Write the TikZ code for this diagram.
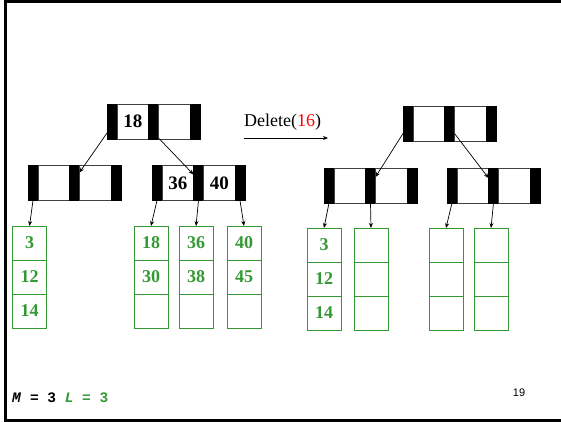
\documentclass[tikz,border=0pt]{standalone}
\usepackage{fontspec}
\setmainfont{Liberation Serif}
\setmonofont{Liberation Mono}
\newfontfamily\slidefont{Liberation Sans}
\usetikzlibrary{positioning,arrows.meta}
\definecolor{leafgreen}{RGB}{51,153,51}

\tikzset{
  bar/.style={fill=black, draw=black, minimum width=10pt, minimum height=35pt,
    inner sep=0pt, outer sep=0pt},
  key/.style={draw=black!75, line width=0.8pt, fill=white, minimum width=31.5pt,
    minimum height=35pt, inner sep=0pt, outer sep=0pt,
    font=\fontsize{19}{19}\selectfont\bfseries},
  leafcell/.style={draw=leafgreen, line width=0.8pt, minimum width=34pt,
    minimum height=34pt, inner sep=0pt, outer sep=0pt, text=leafgreen,
    font=\fontsize{18}{18}\selectfont\bfseries},
  ptr/.style={-{Stealth[length=5pt,width=4pt]}, line width=0.7pt},
}

% internal node: name, position of first bar, two keys
\newcommand{\bnode}[4]{
  \node[bar] (#1-0) at (#2) {};
  \node[key, right=0pt of #1-0] (#1-a) {#3};
  \node[bar, right=0pt of #1-a] (#1-1) {};
  \node[key, right=0pt of #1-1] (#1-b) {#4};
  \node[bar, right=0pt of #1-b] (#1-2) {};
}
% leaf: name, position of top cell, three entries
\newcommand{\bleaf}[5]{
  \node[leafcell] (#1-1) at (#2) {#3};
  \node[leafcell, below=0pt of #1-1] (#1-2) {#4};
  \node[leafcell, below=0pt of #1-2] (#1-3) {#5};
}

\begin{document}
\begin{tikzpicture}[x=1pt, y=-1pt]
  \useasboundingbox (0,0) rectangle (561,422);
  \draw[line width=3pt] (561,2) -- (5,2) -- (5,420.5) -- (561,420.5);

  % before
  \bnode{r}{112,121.5}{18}{}
  \bnode{a}{33,183}{}{}
  \bnode{b}{157,183}{36}{40}
  \bleaf{x1}{29.5,243}{3}{12}{14}
  \bleaf{x2}{151,243}{18}{30}{}
  \bleaf{x3}{196,243}{36}{38}{}
  \bleaf{x4}{244,243}{40}{45}{}

  \draw[ptr] ([yshift=6pt]r-0.south west) -- ([yshift=-7pt]a-1.north east);
  \draw[ptr] ([yshift=1pt]r-1.south east) -- ([yshift=-9pt]b-1.north west);
  \draw[ptr] (a-0.south) -- (x1-1.north);
  \draw[ptr] (b-0.south) -- (x2-1.north);
  \draw[ptr] (b-1.south) -- (x3-1.north);
  \draw[ptr] (b-2.south) -- (x4-1.north);

  % Delete(16)
  \node[anchor=base west, inner sep=0pt, font=\fontsize{18}{18}\selectfont] (del)
    at (244,127) {Delete(\textcolor{red}{16})};
  \coordinate (d0) at (244,138);
  \coordinate (d1) at (328,138);
  \draw[ptr] (d0) -- (d1);

  % after
  \bnode{s}{408,124}{}{}
  \bnode{c}{329,185.5}{}{}
  \bnode{d}{452,185.5}{}{}
  \bleaf{y1}{324,245}{3}{12}{14}
  \bleaf{y2}{371,245}{}{}{}
  \bleaf{y3}{446,245}{}{}{}
  \bleaf{y4}{491,245}{}{}{}

  \draw[ptr] ([yshift=8pt]s-0.south west) -- ([yshift=-9pt]c-1.north east);
  \draw[ptr] ([yshift=8pt]s-1.south east) -- ([yshift=-10pt]d-1.north west);
  \draw[ptr] (c-0.south) -- (y1-1.north);
  \draw[ptr] (c-1.south) -- (y2-1.north);
  \draw[ptr] (d-0.south) -- (y3-1.north);
  \draw[ptr] (d-1.south) -- (y4-1.north);

  \node[anchor=base west, inner sep=0pt, font=\ttfamily\bfseries\fontsize{14.5}{14.5}\selectfont] (ml)
    at (12,402) {\textit{M} = 3 \textcolor{leafgreen}{\textit{L} = 3}};
  \node[inner sep=0pt, font=\slidefont\fontsize{11}{11}\selectfont] (pg) at (519,393) {19};
\end{tikzpicture}
\end{document}
